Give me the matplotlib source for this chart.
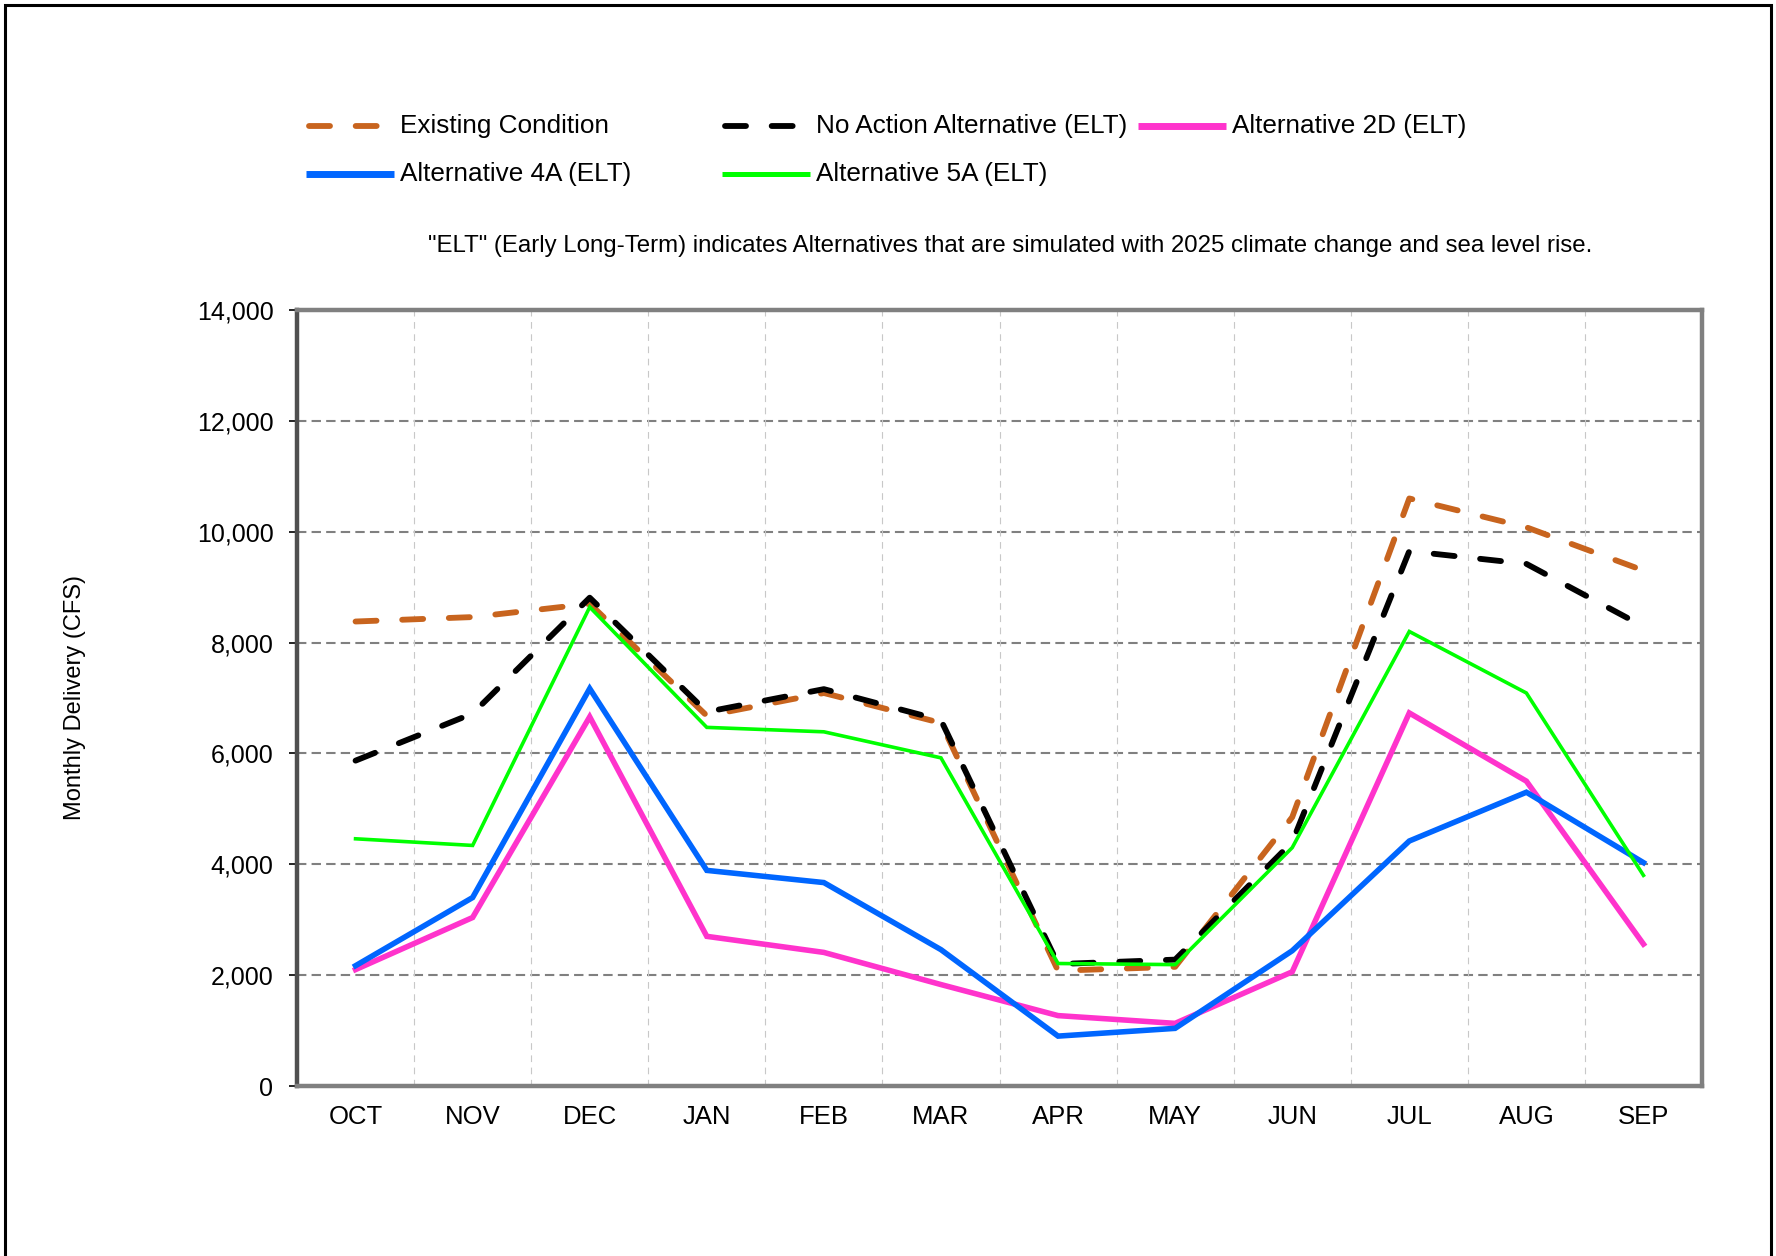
import matplotlib
matplotlib.use("Agg")
import matplotlib.pyplot as plt
from matplotlib.ticker import FuncFormatter

plt.rcParams['font.family'] = ['Liberation Sans', 'DejaVu Sans']

months = ["OCT", "NOV", "DEC", "JAN", "FEB", "MAR", "APR", "MAY", "JUN", "JUL", "AUG", "SEP"]

existing = [8380, 8460, 8700, 6680, 7090, 6550, 2080, 2150, 4850, 10600, 10080, 9300]
no_action = [5870, 6720, 8810, 6750, 7160, 6600, 2200, 2280, 4400, 9650, 9420, 8290]
alt_2d = [2100, 3040, 6660, 2700, 2410, 1830, 1270, 1130, 2060, 6730, 5500, 2560]
alt_4a = [2170, 3400, 7170, 3890, 3670, 2460, 900, 1040, 2440, 4420, 5300, 4030]
alt_5a = [4460, 4340, 8640, 6470, 6390, 5920, 2210, 2190, 4300, 8200, 7090, 3800]

series_labels = ["Existing Condition", "No Action Alternative (ELT)", "Alternative 2D (ELT)",
                 "Alternative 4A (ELT)", "Alternative 5A (ELT)"]

y_ticks = [0, 2000, 4000, 6000, 8000, 10000, 12000, 14000]

BROWN = "#C8641E"
BLACK = "#000000"
PINK = "#FF33CC"
BLUE = "#0066FF"
GREEN = "#00FF00"

W, H = 1776, 1256
fig = plt.figure(figsize=(W / 100, H / 100), dpi=100)

# main plotting area (pixel box 297..1702 x 310..1086)
ax = fig.add_axes([297 / W, 1 - 1086 / H, (1702 - 297) / W, (1086 - 310) / H])

x = list(range(len(months)))
dash_style = (0, (3.6, 4.4))

styles = [
    dict(color=BROWN, lw=4.2, ls=dash_style, dash_capstyle='round'),
    dict(color=BLACK, lw=4.2, ls=dash_style, dash_capstyle='round'),
    dict(color=PINK, lw=4, ls='-'),
    dict(color=BLUE, lw=4, ls='-'),
    dict(color=GREEN, lw=2.6, ls='-'),
]
series = [existing, no_action, alt_2d, alt_4a, alt_5a]

for vals, st, lab in zip(series, styles, series_labels):
    ax.plot(x, vals, label=lab, solid_joinstyle='miter', zorder=3, **st)

ax.set_xlim(-0.5, len(months) - 0.5)
ax.set_ylim(0, 14000)
ax.set_xticks(x)
ax.set_xticklabels(months)
ax.set_yticks(y_ticks)
ax.yaxis.set_major_formatter(FuncFormatter(lambda v, p: f"{int(v):,}"))

# grid: dashed gray horizontals, faint dashed verticals between months
for yv in y_ticks[1:-1]:
    ax.axhline(yv, color="#808080", lw=1.5, ls=(0, (4.5, 2.5)), zorder=1)
for xv in [i + 0.5 for i in range(len(months) - 1)]:
    ax.axvline(xv, color="#C8C8C8", lw=0.8, ls=(0, (6, 5)), zorder=1)

ax.tick_params(axis='x', length=0, pad=14, labelsize=18.5)
ax.tick_params(axis='y', length=6, width=1.2, direction='out', pad=11, labelsize=18, color='black')

for side in ['top', 'right', 'bottom']:
    ax.spines[side].set_color("#808080")
    ax.spines[side].set_linewidth(3.2)
ax.spines['left'].set_color("#505050")
ax.spines['left'].set_linewidth(3.2)

ax.set_ylabel("Monthly Delivery (CFS)", fontsize=17, labelpad=80)

# overlay in pixel coordinates for the border, legend and note
ov = fig.add_axes([0, 0, 1, 1], facecolor='none')
ov.set_xlim(0, W)
ov.set_ylim(H, 0)
ov.axis('off')
ov.set_zorder(5)

ov.plot([5, 5, 1771, 1771], [H + 10, 5, 5, H + 10], color='black', lw=2.2,
        solid_joinstyle='miter')

legend_slots = [(306, 126), (722, 126), (1138, 126), (306, 174), (722, 174)]
for (lx, ly), st, lab in zip(legend_slots, styles, series_labels):
    if st['ls'] == '-':
        ov.plot([lx, lx + 88], [ly, ly], color=st['color'], lw=st['lw'] + 1.0,
                solid_capstyle='butt')
    else:
        ov.plot([lx + 3, lx + 90], [ly, ly], color=st['color'], lw=st['lw'],
                ls=st['ls'], dash_capstyle='round')
    ov.text(lx + 94, ly, lab, fontsize=18.8, va='center', ha='left')

ov.text(428, 246, '"ELT" (Early Long-Term) indicates Alternatives that are simulated with '
        '2025 climate change and sea level rise.', fontsize=17.3, va='center', ha='left')

fig.savefig("out.png", dpi=100)
